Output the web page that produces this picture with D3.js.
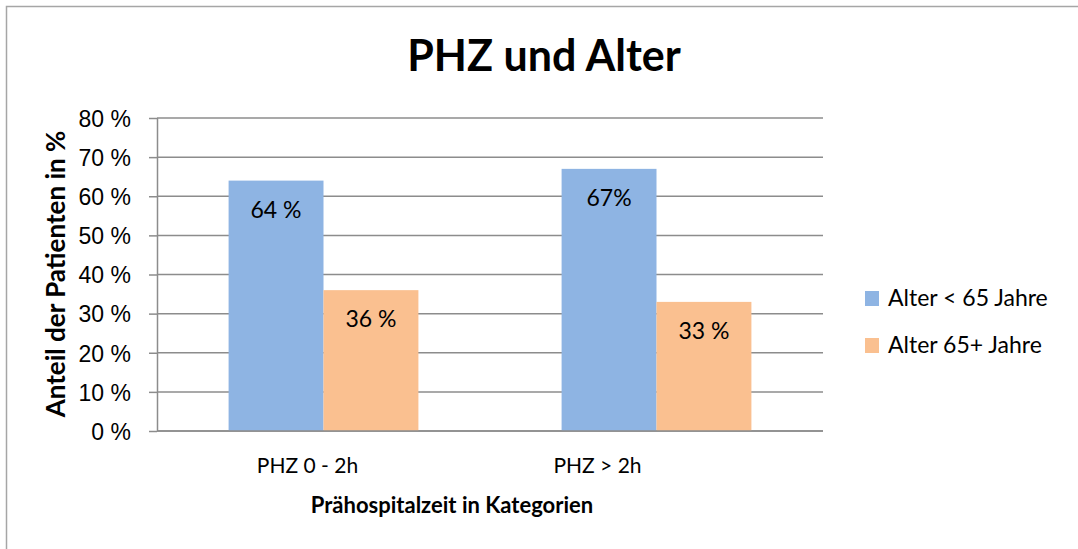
<!DOCTYPE html>
<html>
<head>
<meta charset="utf-8">
<script src="https://cdn.jsdelivr.net/npm/d3@7"></script>
<style>
  html, body { margin: 0; padding: 0; background: #fff; overflow: hidden; }
  svg { display: block; font-family: Lato, "Open Sans", sans-serif; }
</style>
</head>
<body>
<div id="chart"></div>
<script>
// -- Data ------------------------------------------------------
const categories = ["PHZ 0 - 2h", "PHZ > 2h"];
const seriesNames = ["Alter < 65 Jahre", "Alter 65+ Jahre"];
const under65 = [64, 67];
const over65 = [36, 33];
const valueLabels = [["64 %", "67%"], ["36 %", "33 %"]];
const yTicks = [0, 10, 20, 30, 40, 50, 60, 70, 80];
const colors = ["#8eb4e3", "#fac090"];

const W = 1078, H = 549;
const margin = { left: 157, right: 255, top: 118, bottom: 118 };
const plotW = W - margin.left - margin.right;
const plotH = H - margin.top - margin.bottom;

const svg = d3.select("#chart").append("svg").attr("width", W).attr("height", H);

// outer chart border (only left/top edges are inside the picture)
svg.append("path")
  .attr("d", `M6.5,${H}V6.5H${W}`)
  .attr("fill", "none").attr("stroke", "#a6a6a6").attr("stroke-width", 1.5);

const g = svg.append("g").attr("transform", `translate(${margin.left},${margin.top})`);

const x0 = d3.scaleBand().domain(categories).range([0, plotW]);
const x1 = d3.scaleBand().domain(seriesNames).range([0, x0.bandwidth() * 0.57]);
const y = d3.scaleLinear().domain([0, 80]).range([plotH, 0]);

// -- Gridlines + y axis ---------------------------------------
const yAxis = d3.axisLeft(y).tickValues(yTicks).tickSize(8).tickFormat(d => d + " %");
const ya = g.append("g").call(yAxis);
ya.select(".domain").attr("stroke", "#8c8c8c").attr("stroke-width", 1.5).attr("d", `M0.5,0V${plotH}`);
ya.selectAll(".tick line").attr("stroke", "#8c8c8c").attr("stroke-width", 1.5);
ya.selectAll(".tick text").attr("x", -26).attr("dy", "0.36em")
  .style("font-size", "23px").attr("fill", "#000");

g.append("g").selectAll("line")
  .data(yTicks)
  .join("line")
  .attr("x1", 0).attr("x2", plotW)
  .attr("y1", d => y(d)).attr("y2", d => y(d))
  .attr("stroke", "#8c8c8c").attr("stroke-width", 1.5);

// -- Bars ------------------------------------------------------
const series = [under65, over65];
const groups = g.append("g").selectAll("g")
  .data(categories)
  .join("g")
  .attr("transform", (d) => `translate(${x0(d) + x0.bandwidth() * 0.215},0)`);

groups.each(function (cat, ci) {
  const grp = d3.select(this);
  seriesNames.forEach((s, si) => {
    const v = series[si][ci];
    grp.append("rect")
      .attr("x", x1(s))
      .attr("y", y(v))
      .attr("width", x1.bandwidth())
      .attr("height", plotH - y(v))
      .attr("fill", colors[si]);
    grp.append("text")
      .attr("x", x1(s) + x1.bandwidth() / 2)
      .attr("y", y(v) + 29)
      .attr("dy", "0.36em")
      .attr("text-anchor", "middle")
      .style("font-size", "23px")
      .text(valueLabels[si][ci]);
  });
});

// baseline on top of the bars
g.append("line")
  .attr("x1", 0).attr("x2", plotW)
  .attr("y1", plotH).attr("y2", plotH)
  .attr("stroke", "#8c8c8c").attr("stroke-width", 1.5);

// -- Category labels -------------------------------------------
g.append("g").selectAll("text")
  .data(categories)
  .join("text")
  .attr("x", d => x0(d) + x0.bandwidth() / 2 - 16 - (d === "PHZ > 2h" ? 43 : 0))
  .attr("y", 473 - margin.top)
  .attr("text-anchor", "middle")
  .style("font-size", "21px")
  .text(d => d);

// -- Titles ----------------------------------------------------
svg.append("text")
  .attr("x", 544).attr("y", 71)
  .attr("text-anchor", "middle")
  .style("font-size", "43px").style("font-weight", "bold")
  .text("PHZ und Alter");

svg.append("text")
  .attr("x", 452).attr("y", 513)
  .attr("text-anchor", "middle")
  .style("font-size", "22px").style("font-weight", "bold")
  .text("Prähospitalzeit in Kategorien");

svg.append("text")
  .attr("transform", "translate(65,274) rotate(-90)")
  .attr("text-anchor", "middle")
  .style("font-size", "26px").style("font-weight", "bold")
  .text("Anteil  der Patienten in %");

// -- Legend ----------------------------------------------------
const legend = svg.append("g").attr("transform", "translate(865,291)");
legend.selectAll("g")
  .data(seriesNames)
  .join("g")
  .attr("transform", (d, i) => `translate(0,${i * 47})`)
  .each(function (d, i) {
    const lg = d3.select(this);
    lg.append("rect").attr("width", 14).attr("height", 15).attr("fill", colors[i]);
    lg.append("text").attr("x", 23).attr("y", 7).attr("dy", "0.36em")
      .style("font-size", "23px").text(d);
  });
</script>
</body>
</html>
